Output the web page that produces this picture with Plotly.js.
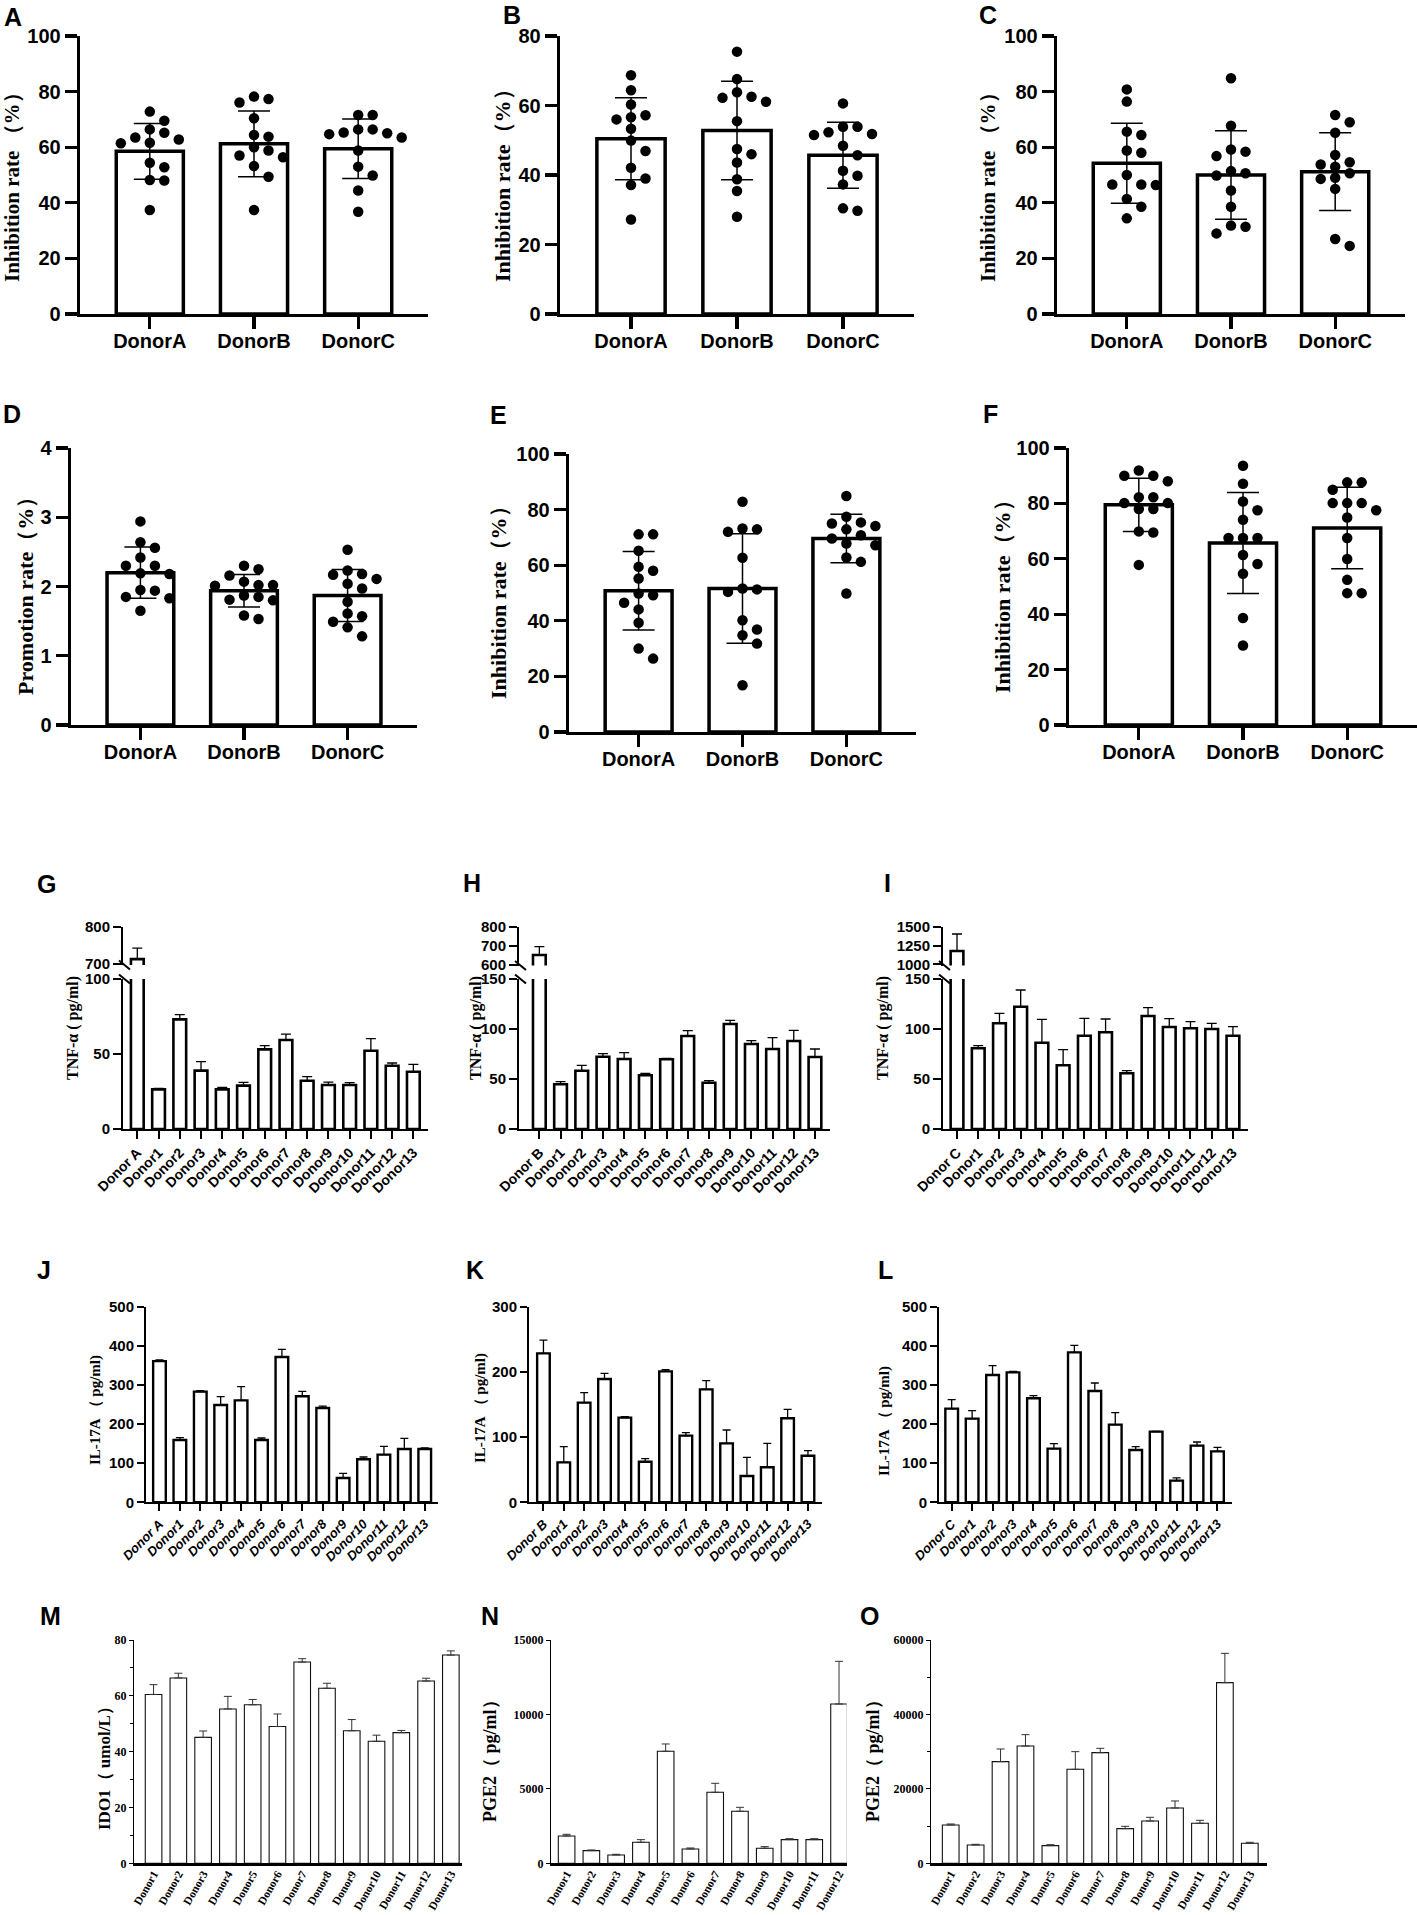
<!DOCTYPE html>
<html><head><meta charset="utf-8">
<script src="https://cdn.plot.ly/plotly-3.0.1.min.js"></script>
<style>html,body{margin:0;padding:0;background:#fff;} #chart{width:1417px;height:1915px;}</style>
</head><body><div id="chart"></div>
<script>
// ================= DATA =================
const groups = ["DonorA", "DonorB", "DonorC"];

const A_mean = [58.5, 61.2, 59.4];
const A_sd = [10.0, 11.8, 10.7];
const A_points = [
  [72.8, 69.5, 61.6, 62.8, 63.5, 65.2, 66.4, 61.4, 54.4, 52.8, 48.2, 48.0, 37.4],
  [78.2, 77.3, 76.1, 70.4, 63.8, 64.4, 56.4, 57.0, 58.8, 60.0, 53.2, 49.4, 37.4],
  [71.6, 71.6, 65.3, 66.4, 66.4, 65.0, 63.5, 64.7, 58.8, 53.0, 49.8, 44.4, 36.8]
];

const B_mean = [50.4, 52.8, 45.7];
const B_sd = [11.8, 14.2, 9.5];
const B_points = [
  [68.7, 64.4, 60.3, 56.0, 56.6, 57.2, 53.3, 49.9, 46.9, 42.1, 39.0, 37.1, 27.2],
  [75.5, 67.6, 63.8, 61.1, 62.5, 62.2, 55.5, 47.5, 46.0, 43.6, 38.8, 35.4, 28.0],
  [60.6, 53.9, 53.9, 52.3, 51.8, 51.5, 48.4, 45.7, 39.8, 41.2, 37.3, 29.7, 30.4]
];

const C_mean = [54.2, 50.0, 51.2];
const C_sd = [14.4, 15.9, 14.0];
const C_points = [
  [80.8, 76.4, 64.4, 65.6, 58.0, 58.8, 50.0, 46.6, 46.4, 46.6, 41.4, 38.6, 34.4],
  [84.8, 67.7, 56.8, 58.4, 59.2, 50.6, 51.4, 49.8, 44.4, 38.6, 29.0, 31.8, 31.4],
  [71.6, 69.0, 65.2, 57.2, 54.6, 53.8, 53.0, 49.0, 50.6, 48.6, 45.0, 27.0, 24.5]
];

const D_mean = [2.20, 1.94, 1.87];
const D_sd = [0.37, 0.235, 0.375];
const D_points = [
  [2.94, 2.56, 2.64, 2.42, 2.30, 2.19, 2.18, 2.30, 1.95, 1.94, 1.85, 1.83, 1.65],
  [2.25, 2.30, 2.16, 2.07, 2.02, 2.01, 2.02, 1.87, 1.85, 1.80, 1.81, 1.53, 1.58],
  [2.53, 2.17, 2.18, 2.23, 2.11, 1.97, 2.04, 1.78, 1.61, 1.57, 1.49, 1.41, 1.28]
];

const E_mean = [50.8, 51.6, 69.6];
const E_sd = [14.1, 19.7, 8.7];
const E_points = [
  [71.1, 71.1, 65.2, 58.0, 59.4, 55.2, 49.2, 49.8, 46.5, 44.1, 39.3, 30.0, 26.4],
  [82.8, 72.0, 72.9, 73.2, 62.7, 51.3, 51.6, 50.4, 40.2, 34.8, 36.9, 31.8, 16.8],
  [84.9, 77.4, 75.0, 75.4, 74.1, 72.9, 70.8, 69.6, 67.2, 67.8, 62.8, 61.2, 49.8]
];

const F_mean = [79.5, 65.7, 71.1];
const F_sd = [9.6, 18.2, 14.7];
const F_points = [
  [91.9, 90.0, 90.0, 88.0, 82.2, 82.2, 78.0, 80.1, 80.1, 78.0, 69.5, 69.9, 57.8],
  [93.6, 87.1, 80.7, 77.5, 74.1, 67.5, 67.5, 67.5, 61.4, 58.1, 54.6, 38.6, 28.7],
  [87.6, 87.6, 84.9, 80.1, 80.1, 80.1, 77.5, 74.9, 67.5, 59.9, 52.4, 47.6, 47.6]
];

const donors13 = ["Donor1","Donor2","Donor3","Donor4","Donor5","Donor6","Donor7","Donor8","Donor9","Donor10","Donor11","Donor12","Donor13"];

const G_labels = ["Donor A"].concat(donors13);
const G_values = [712, 26.4, 73.1, 38.9, 26.4, 28.9, 53.1, 59.3, 32.2, 29.3, 29.3, 52.2, 42.2, 38.2];
const G_err = [30, 0.6, 3.1, 6.0, 1.4, 2.2, 2.5, 4.0, 2.7, 2.0, 1.6, 8.0, 1.8, 4.9];

const H_labels = ["Donor B"].concat(donors13);
const H_values = [652, 44.7, 58.3, 72.3, 70.0, 53.7, 69.7, 93.0, 46.3, 105.0, 85.0, 80.0, 88.0, 72.0];
const H_err = [44, 2.6, 5.4, 3.0, 6.3, 2.0, 1.0, 5.3, 2.0, 3.7, 3.3, 11.3, 10.7, 8.0];

const I_labels = ["Donor C"].concat(donors13);
const I_values = [1179, 80.7, 105.7, 122.3, 86.3, 63.7, 93.3, 96.7, 55.7, 113.0, 102.0, 100.7, 100.0, 93.3];
const I_err = [227, 2.6, 10.0, 16.7, 23.4, 15.6, 17.4, 13.3, 2.6, 8.3, 8.3, 6.6, 5.7, 9.0];

const J_labels = ["Donor A"].concat(donors13);
const J_values = [361, 159.3, 282.8, 248.7, 260.6, 159.3, 371.4, 270.9, 241, 62.2, 109.9, 121.8, 136.3, 136.3];
const J_err = [2.7, 5.9, 2.5, 21.3, 35, 5.1, 19.6, 12.7, 5, 11.9, 5.9, 21.3, 27.2, 2.5];

const K_labels = ["Donor B"].concat(donors13);
const K_values = [228.4, 61.3, 152.8, 189, 129.8, 62.3, 200.8, 102.2, 173.2, 90.4, 40.4, 53.7, 128.8, 71.5];
const K_err = [20.4, 24, 15.3, 8.8, 1.5, 4.7, 2.6, 4.6, 13.3, 20.5, 28.6, 36.7, 13.8, 7.7];

const L_labels = ["Donor C"].concat(donors13);
const L_values = [239.4, 213.8, 325.4, 332.2, 265.8, 137.1, 383.3, 284.5, 198.5, 133.7, 180.6, 55.4, 144.8, 130.3];
const L_err = [23, 20.4, 23.8, 2.6, 6.8, 12.8, 17.9, 20.4, 30.6, 8.5, 0.8, 6.8, 9.4, 10.2];

const M_labels = donors13;
const M_values = [60.5, 66.4, 45.1, 55.3, 56.8, 49.0, 72.1, 62.7, 47.5, 43.7, 46.8, 65.3, 74.6];
const M_err = [3.5, 1.7, 2.3, 4.5, 1.9, 4.5, 1.2, 1.8, 4.0, 2.2, 0.8, 1.0, 1.5];

const N_labels = donors13.slice(0, 12);
const N_values = [1836, 851, 560, 1411, 7523, 963, 4769, 3493, 1008, 1590, 1590, 10702];
const N_err = [112, 45, 45, 179, 493, 67, 605, 269, 112, 67, 67, 2866];

const O_labels = donors13;
const O_values = [10298, 4925, 27313, 31522, 4746, 25253, 29731, 9313, 11373, 14865, 10746, 48536, 5373];
const O_err = [269, 179, 3403, 3044, 269, 4747, 1164, 627, 985, 1881, 806, 7881, 269];

// ================= BUILD =================
const W = 1417, H = 1915;
const SANS = 'Arial, "Liberation Sans", Helvetica, sans-serif';
const SERIF = '"Times New Roman", "Liberation Serif", serif';
const layout = {width: W, height: H, margin: {l: 0, r: 0, t: 0, b: 0}, paper_bgcolor: '#fff',
  plot_bgcolor: 'rgba(0,0,0,0)', showlegend: false, barmode: 'overlay', annotations: [], shapes: []};
const data = [];
let nx = 0, ny = 0;
const xk = n => 'xaxis' + (n > 1 ? n : '');
const yk = n => 'yaxis' + (n > 1 ? n : '');
const xr = n => 'x' + (n > 1 ? n : '');
const yr = n => 'y' + (n > 1 ? n : '');
const domX = (a, b) => [a / W, Math.min(1, b / W)];
const domY = (top, bot) => [1 - bot / H, 1 - top / H];
function note(text, x, y, size, family, extra) {
  layout.annotations.push(Object.assign({xref: 'paper', yref: 'paper', x: x / W, y: 1 - y / H, text: text,
    showarrow: false, xanchor: 'center', yanchor: 'middle',
    font: {family: family, size: size, color: '#000', weight: 700}}, extra || {}));
}
function swarm(vals, center, pxPerX, pxPerY, step, minD) {
  const order = vals.map((v, i) => i).sort((a, b) => vals[b] - vals[a]);
  const placed = [], xs = new Array(vals.length);
  const cands = [0, 1, -1, 2, -2, 3, -3, 4, -4, 5, -5];
  for (const i of order) {
    const py = vals[i] * pxPerY;
    let done = false;
    for (const c of cands) {
      const px = c * step;
      if (placed.every(p => Math.hypot(p[0] - px, p[1] - py) >= minD)) {
        placed.push([px, py]); xs[i] = center + px / pxPerX; done = true; break;
      }
    }
    if (!done) { xs[i] = center; placed.push([0, py]); }
  }
  return xs;
}

function dotPanel(p) {
  const ix = ++nx, iy = ++ny;
  const xrng = [-0.67, 2.67];
  const ax = {showline: true, linewidth: 3.3, linecolor: '#000', ticks: 'outside', ticklen: 12, tickwidth: 3.3,
    tickcolor: '#000', showgrid: false, zeroline: false,
    tickfont: {family: SANS, size: 20, color: '#000', weight: 700}};
  layout[xk(ix)] = Object.assign({}, ax, {domain: domX(p.x0, p.x1), range: xrng, anchor: yr(iy),
    tickmode: 'array', tickvals: [0, 1, 2], ticktext: groups, ticklabelstandoff: -5});
  layout[yk(iy)] = Object.assign({}, ax, {domain: domY(p.y0, p.y1), range: p.yrange, anchor: xr(ix),
    tick0: 0, dtick: p.dtick});
  data.push({type: 'bar', x: [0, 1, 2], y: p.means, width: 0.644,
    marker: {color: '#fff', line: {color: '#000', width: 3.5}},
    error_y: {type: 'data', array: p.sds, visible: true, color: '#000', thickness: 1.5, width: 16},
    xaxis: xr(ix), yaxis: yr(iy)});
  const pxX = (p.x1 - p.x0) / (xrng[1] - xrng[0]);
  const pxY = (p.y1 - p.y0) / (p.yrange[1] - p.yrange[0]);
  const xs = [], ys = [];
  p.points.forEach((vals, g) => {
    const sx = swarm(vals, g, pxX, pxY, 14.5, 11);
    vals.forEach((v, i) => { xs.push(sx[i]); ys.push(v); });
  });
  data.push({type: 'scatter', mode: 'markers', x: xs, y: ys, marker: {color: '#000', size: 10.5},
    xaxis: xr(ix), yaxis: yr(iy), cliponaxis: false});
  note(p.title, p.tx, p.ty, p.tsize, SERIF, {textangle: -90});
  note(p.letter, p.lx, p.ly, 25, SANS);
}

function upErr(a, thick, w, col) {
  return {type: 'data', symmetric: false, array: a, arrayminus: a.map(() => 0), visible: true,
    color: col || '#000', thickness: thick, width: w};
}

function brokenPanel(p) {
  const ix = ++nx, iyL = ++ny, iyU = ++ny;
  const ax = {showline: true, linewidth: 2, linecolor: '#000', ticks: 'outside', ticklen: 8, tickwidth: 2,
    tickcolor: '#000', showgrid: false, zeroline: false,
    tickfont: {family: SANS, size: 15, color: '#000', weight: 700}};
  layout[xk(ix)] = Object.assign({}, ax, {domain: domX(p.x0, p.x1), type: 'category', categoryorder: 'array',
    categoryarray: p.labels, range: p.xrange, anchor: yr(iyL), tickangle: -45,
    tickfont: {family: SANS, size: 14, color: '#000', weight: 700}});
  layout[yk(iyL)] = Object.assign({}, ax, {domain: domY(p.lowTop, p.lowBot), range: p.lowRange,
    tickmode: 'array', tickvals: p.lowTicks, anchor: xr(ix)});
  layout[yk(iyU)] = Object.assign({}, ax, {domain: domY(p.upTop, p.upBot), range: p.upRange,
    tickmode: 'array', tickvals: p.upTicks, anchor: xr(ix)});
  const mk = {color: '#fff', line: {color: '#000', width: 2.6}};
  data.push({type: 'bar', x: p.labels, y: p.values, width: 0.6, marker: mk,
    error_y: upErr(p.errs, 1.3, 5), xaxis: xr(ix), yaxis: yr(iyL)});
  data.push({type: 'bar', x: [p.labels[0]], y: [p.values[0]], width: 0.6, marker: mk,
    error_y: upErr([p.errs[0]], 1.3, 5), xaxis: xr(ix), yaxis: yr(iyU)});
  [p.upBot, p.lowTop].forEach(yy => layout.shapes.push({type: 'line', xref: 'paper', yref: 'paper',
    x0: (p.x0 - 4) / W, y0: 1 - (yy - 4.5) / H, x1: (p.x0 + 7) / W, y1: 1 - (yy + 4.5) / H,
    line: {color: '#000', width: 2}}));
  note(p.title, p.tx, p.ty, 16, SERIF, {textangle: -90});
  note(p.letter, p.lx, p.ly, 25, SANS);
}

function simplePanel(p) {
  const ix = ++nx, iy = ++ny;
  const thin = p.style === 'thin';
  const yax = {showline: true, linewidth: thin ? 1 : 2, linecolor: '#000', ticks: 'outside',
    ticklen: thin ? 4 : 7, tickwidth: thin ? 1 : 2, tickcolor: '#000', showgrid: false, zeroline: false,
    domain: domY(p.y0, p.y1), range: p.yrange, tick0: 0, dtick: p.dtick, tickformat: 'd', anchor: xr(ix),
    tickfont: thin ? {family: SERIF, size: 12, color: '#000', weight: 700} : {family: SANS, size: 15, color: '#000', weight: 700}};
  if (p.minor) yax.minor = {dtick: p.minor, ticks: 'outside', ticklen: 3, tickwidth: 1, tickcolor: '#000'};
  layout[yk(iy)] = yax;
  layout[xk(ix)] = {showline: true, linewidth: thin ? 2.6 : 2, linecolor: '#000',
    ticks: thin ? '' : 'outside', ticklen: thin ? 0 : 7, tickwidth: 2, tickcolor: '#000',
    showgrid: false, zeroline: false, type: 'category', categoryorder: 'array', categoryarray: p.labels,
    range: p.xrange, anchor: yr(iy), domain: domX(p.x0, p.x1), tickangle: thin ? -60 : -45,
    ticklabelstandoff: thin ? -3 : 0,
    tickfont: thin ? {family: SERIF, size: 11.5, color: '#000', weight: 700}
                   : {family: SANS, size: 13, color: '#000', weight: 700, style: 'italic'}};
  data.push({type: 'bar', x: p.labels, y: p.values, width: thin ? 0.67 : 0.62,
    marker: {color: '#fff', line: {color: thin ? '#111' : '#000', width: thin ? 1.1 : 2.4}},
    error_y: upErr(p.errs, thin ? 1 : 1.3, 4, thin ? '#333' : '#000'),
    xaxis: xr(ix), yaxis: yr(iy)});
  note(p.title, p.tx, p.ty, p.tsize, SERIF, {textangle: -90});
  note(p.letter, p.lx, p.ly, 25, SANS);
}

// ---- Row 1 ----
dotPanel({x0: 80, x1: 428, y0: 36, y1: 314, yrange: [0, 100], dtick: 20, means: A_mean, sds: A_sd, points: A_points,
  title: 'Inhibition rate （%）', tx: 12, ty: 182, tsize: 21, letter: 'A', lx: 13, ly: 17});
dotPanel({x0: 560, x1: 914, y0: 36, y1: 314, yrange: [0, 80], dtick: 20, means: B_mean, sds: B_sd, points: B_points,
  title: 'Inhibition rate（%）', tx: 502, ty: 180, tsize: 22, letter: 'B', lx: 512, ly: 15});
dotPanel({x0: 1057, x1: 1405, y0: 36, y1: 314, yrange: [0, 100], dtick: 20, means: C_mean, sds: C_sd, points: C_points,
  title: 'Inhibition rate （%）', tx: 988, ty: 182, tsize: 21, letter: 'C', lx: 988, ly: 15});
// ---- Row 2 ----
dotPanel({x0: 71, x1: 417, y0: 448, y1: 725, yrange: [0, 4], dtick: 1, means: D_mean, sds: D_sd, points: D_points,
  title: 'Promotion rate（%）', tx: 25, ty: 591, tsize: 22, letter: 'D', lx: 12, ly: 414});
dotPanel({x0: 569, x1: 916, y0: 454, y1: 732, yrange: [0, 100], dtick: 20, means: E_mean, sds: E_sd, points: E_points,
  title: 'Inhibition rate（%）', tx: 499, ty: 597, tsize: 22, letter: 'E', lx: 498, ly: 415});
dotPanel({x0: 1069, x1: 1417, y0: 448, y1: 725, yrange: [0, 100], dtick: 20, means: F_mean, sds: F_sd, points: F_points,
  title: 'Inhibition rate（%）', tx: 1002, ty: 591, tsize: 22, letter: 'F', lx: 990, ly: 414});
// ---- Row 3 (broken axes) ----
brokenPanel({labels: G_labels, values: G_values, errs: G_err, x0: 123, x1: 428, xrange: [-0.674, 13.69],
  upTop: 927, upBot: 965, upRange: [696, 800], upTicks: [700, 800],
  lowTop: 979, lowBot: 1129, lowRange: [0, 100], lowTicks: [0, 50, 100],
  title: 'TNF-α ( pg/ml)', tx: 73, ty: 1028, letter: 'G', lx: 46, ly: 884});
brokenPanel({labels: H_labels, values: H_values, errs: H_err, x0: 519, x1: 830, xrange: [-0.96, 13.71],
  upTop: 927, upBot: 965.5, upRange: [596, 800], upTicks: [600, 700, 800],
  lowTop: 979, lowBot: 1129, lowRange: [0, 150], lowTicks: [0, 50, 100, 150],
  title: 'TNF-α ( pg/ml)', tx: 476, ty: 1028, letter: 'H', lx: 472, ly: 883});
brokenPanel({labels: I_labels, values: I_values, errs: I_err, x0: 943, x1: 1248, xrange: [-0.66, 13.71],
  upTop: 927, upBot: 965.5, upRange: [984, 1500], upTicks: [1000, 1250, 1500],
  lowTop: 979, lowBot: 1129, lowRange: [0, 150], lowTicks: [0, 50, 100, 150],
  title: 'TNF-α ( pg/ml)', tx: 883, ty: 1028, letter: 'I', lx: 887, ly: 883});
// ---- Row 4 ----
simplePanel({labels: J_labels, values: J_values, errs: J_err, x0: 146, x1: 438, xrange: [-0.66, 13.65],
  y0: 1306.7, y1: 1502.3, yrange: [0, 500], dtick: 100, style: 'bold',
  title: 'IL-17A （ pg/ml)', tx: 95, ty: 1410, tsize: 15, letter: 'J', lx: 44, ly: 1270});
simplePanel({labels: K_labels, values: K_values, errs: K_err, x0: 529, x1: 822, xrange: [-0.71, 13.69],
  y0: 1306.7, y1: 1502.3, yrange: [0, 300], dtick: 100, style: 'bold',
  title: 'IL-17A （ pg/ml)', tx: 480, ty: 1408, tsize: 15, letter: 'K', lx: 475, ly: 1270});
simplePanel({labels: L_labels, values: L_values, errs: L_err, x0: 939, x1: 1232, xrange: [-0.62, 13.71],
  y0: 1306.7, y1: 1502.3, yrange: [0, 500], dtick: 100, style: 'bold',
  title: 'IL-17A （ pg/ml)', tx: 884, ty: 1421, tsize: 15, letter: 'L', lx: 885, ly: 1270});
// ---- Row 5 ----
simplePanel({labels: M_labels, values: M_values, errs: M_err, x0: 134, x1: 462, xrange: [-0.79, 12.45],
  y0: 1640, y1: 1863.3, yrange: [0, 80], dtick: 20, minor: 10, style: 'thin',
  title: 'IDO1（ umol/L）', tx: 104, ty: 1764, tsize: 17, letter: 'M', lx: 50, ly: 1616});
simplePanel({labels: N_labels, values: N_values, errs: N_err, x0: 551, x1: 846.7, xrange: [-0.63, 11.31],
  y0: 1640, y1: 1863.3, yrange: [0, 15000], dtick: 5000, style: 'thin',
  title: 'PGE2（ pg/ml）', tx: 490, ty: 1757, tsize: 18, letter: 'N', lx: 490, ly: 1616});
simplePanel({labels: O_labels, values: O_values, errs: O_err, x0: 931, x1: 1267, xrange: [-0.79, 12.69],
  y0: 1640, y1: 1863.3, yrange: [0, 60000], dtick: 20000, minor: 10000, style: 'thin',
  title: 'PGE2（ pg/ml）', tx: 873, ty: 1757, tsize: 18, letter: 'O', lx: 869, ly: 1616});

Plotly.newPlot('chart', data, layout, {staticPlot: true, displayModeBar: false});
</script>
</body></html>
